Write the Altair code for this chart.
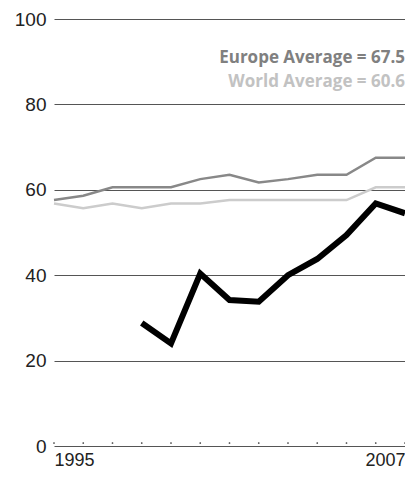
import altair as alt
import pandas as pd

years = [1995, 1996, 1997, 1998, 1999, 2000, 2001, 2002, 2003, 2004, 2005, 2006, 2007]
europe = [57.6, 58.6, 60.6, 60.6, 60.6, 62.5, 63.5, 61.7, 62.5, 63.5, 63.5, 67.5, 67.5]
world = [56.8, 55.7, 56.8, 55.7, 56.8, 56.8, 57.6, 57.6, 57.6, 57.6, 57.6, 60.6, 60.6]
country = [None, None, None, 28.8, 24.0, 40.4, 34.2, 33.8, 40.0, 43.8, 49.4, 56.8, 54.5]

labels = ["Europe Average = 67.5", "World Average = 60.6"]
label_y = [89.6, 84.0]
label_colors = ["#808080", "#c2c2c2"]

y_ticks = [0, 20, 40, 60, 80, 100]

df_e = pd.DataFrame({"year": years, "value": europe})
df_w = pd.DataFrame({"year": years, "value": world})
df_c = pd.DataFrame({"year": years, "value": country}).dropna()
df_t = pd.DataFrame({"year": years, "value": [0] * len(years)})
df_l = pd.DataFrame({"year": [years[-1]] * 2, "value": label_y, "label": labels, "color": label_colors})

FONT = "Open Sans"
AXIS_FONT = "Liberation Sans"

x = alt.X("year:Q", scale=alt.Scale(domain=[1995, 2007], nice=False, zero=False),
          axis=alt.Axis(values=[1995, 2007], format="d", title=None, grid=False,
                        domain=False, ticks=False, labelFlush=True, labelPadding=5,
                        labelFontSize=18, labelFont=AXIS_FONT, labelColor="#222222"))
y = alt.Y("value:Q", scale=alt.Scale(domain=[0, 100], nice=False),
          axis=alt.Axis(values=y_ticks, title=None, grid=True, gridColor="#555555",
                        gridWidth=1, domain=False, ticks=False, labelPadding=8,
                        labelFontSize=19, labelFont=AXIS_FONT, labelColor="#222222"))

base_axes = alt.Chart(df_t).mark_circle(size=3, color="#333333", opacity=1).encode(
    x=x, y=y, yOffset=alt.value(-3))

eu = alt.Chart(df_e).mark_line(color="#888888", strokeWidth=2.5).encode(x="year:Q", y="value:Q")
wo = alt.Chart(df_w).mark_line(color="#cccccc", strokeWidth=2.5).encode(x="year:Q", y="value:Q")
co = alt.Chart(df_c).mark_line(color="#000000", strokeWidth=6, strokeJoin="miter").encode(
    x="year:Q", y="value:Q")

txt = alt.Chart(df_l).mark_text(align="right", baseline="alphabetic", fontSize=17,
                                fontWeight="bold", font=FONT).encode(
    x="year:Q", y="value:Q", text="label:N",
    color=alt.Color("color:N", scale=None))

chart = alt.layer(base_axes, wo, eu, co, txt).properties(
    width=351, height=427,
    autosize=alt.AutoSizeParams(type="none"),
    padding={"left": 46, "top": 11, "right": 0, "bottom": 24},
).configure_view(stroke=None)

chart.save("out.html", embed_options={"renderer": "svg", "actions": False})
